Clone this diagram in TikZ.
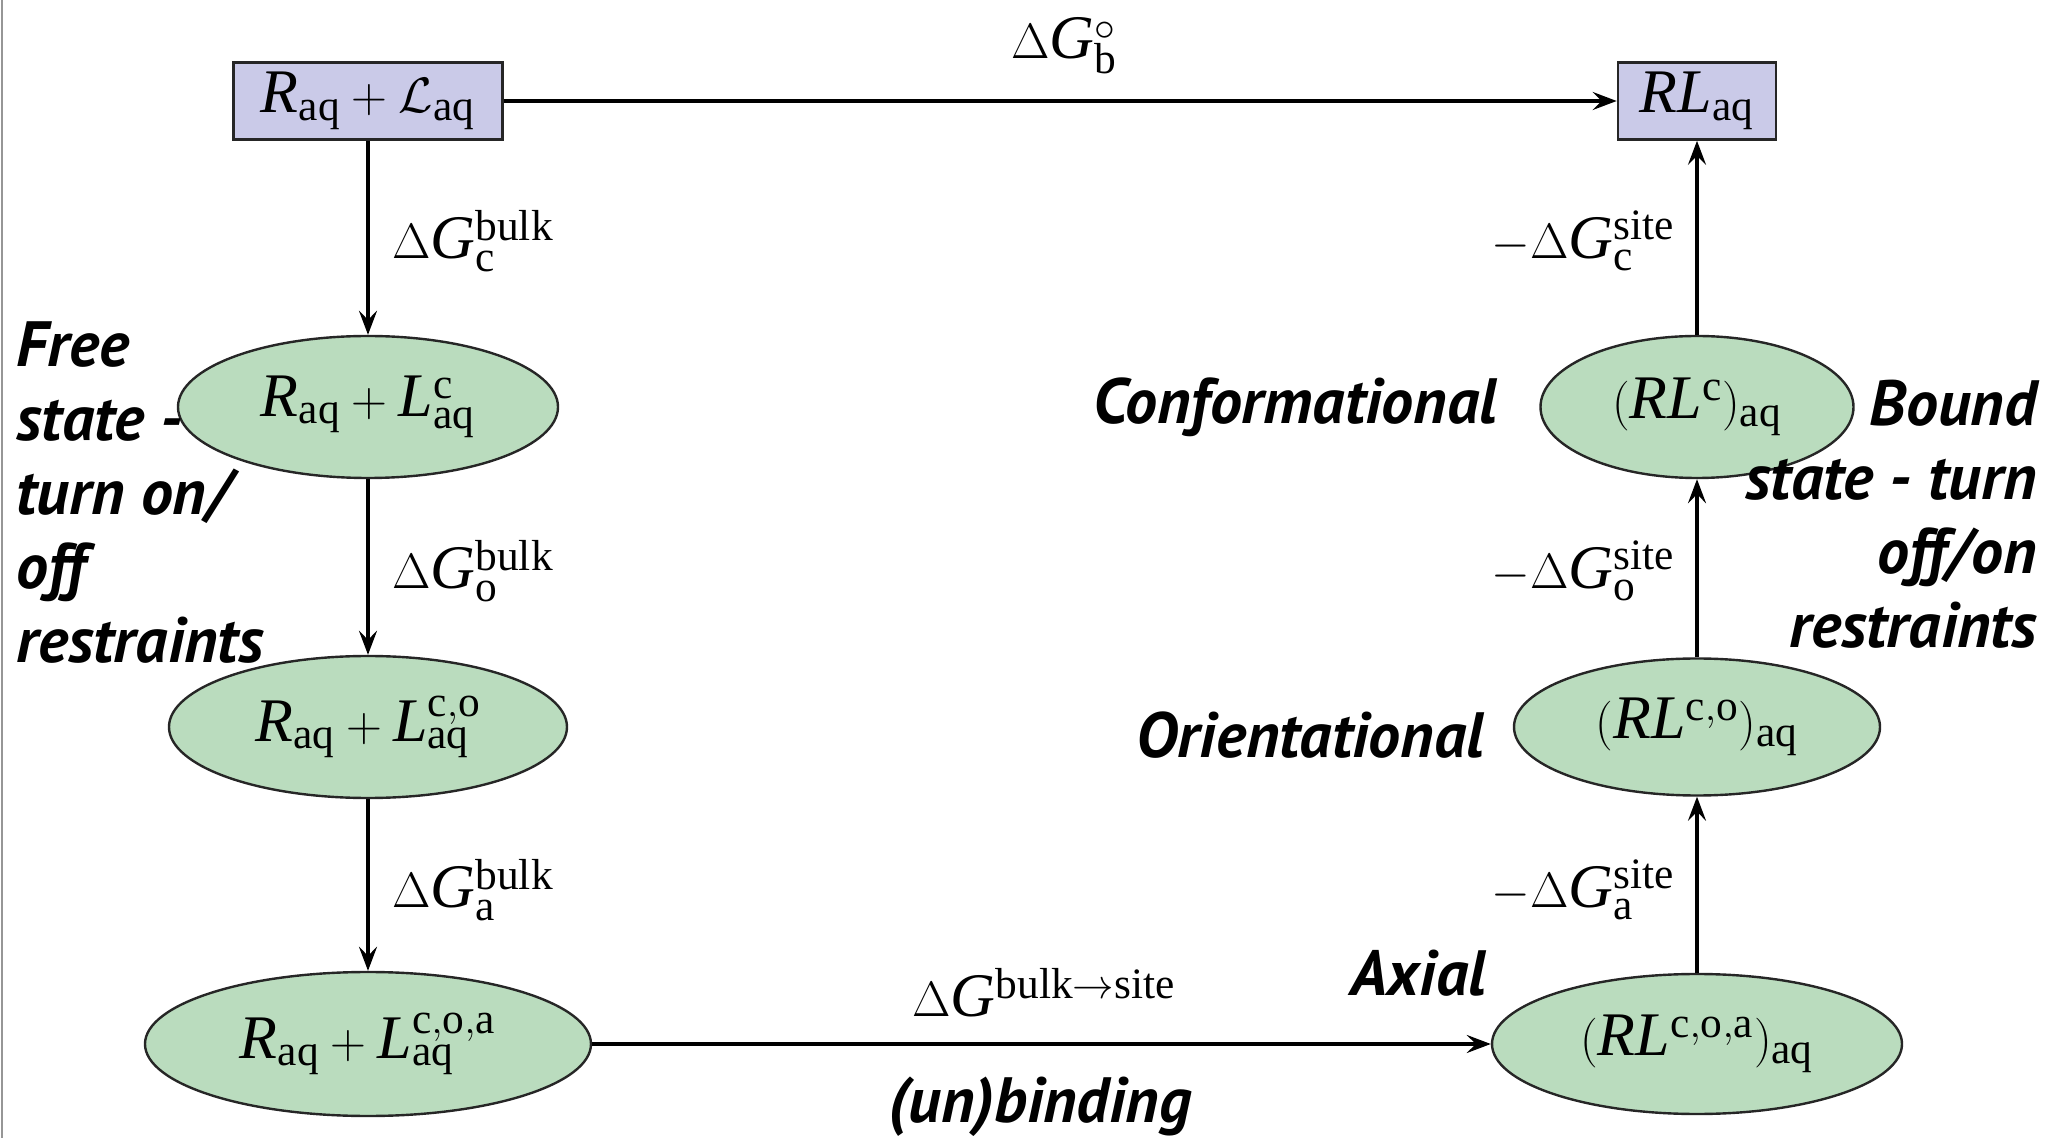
\documentclass[tikz,border=0pt]{standalone}
\usepackage{fontspec}
\setmainfont{Liberation Serif}
\newfontfamily\labfam{PT Sans}
\usetikzlibrary{shapes.geometric,arrows.meta}
\definecolor{boxfill}{RGB}{202,202,232}
\definecolor{ellfill}{RGB}{186,220,190}
\definecolor{framegray}{RGB}{150,150,150}
\newcommand{\mfont}{\fontsize{31}{36}\selectfont}
\newcommand{\bfont}{\labfam\bfseries\itshape\fontsize{32}{37}\selectfont}
\newcommand{\vR}{\mathit{R}}
\newcommand{\vL}{\mathit{L}}
\newcommand{\vG}{\mathit{G}}
\tikzset{
  statebox/.style={draw=black!85, line width=1.3pt, fill=boxfill, minimum height=38.5pt, inner sep=0pt, font=\mfont},
  stateell/.style={ellipse, draw=black!85, line width=1.2pt, fill=ellfill, minimum height=71pt, inner sep=0pt, font=\mfont},
  conn/.style={line width=1.6pt, -{Stealth[length=12pt,width=9pt,inset=4.5pt]}},
  mlab/.style={inner sep=0pt, font=\mfont},
  blab/.style={inner sep=0pt, font=\bfont, text=black}
}
\begin{document}
\begin{tikzpicture}[x=0.5pt,y=-0.5pt]
\useasboundingbox (0,0) rectangle (2047,1138);
\draw[framegray, line width=1pt] (2,0) -- (2,1138);
% nodes
\node[statebox, minimum width=134.5pt] (b1) at (368,101) {$\vR_{\mathrm{aq}}+\mathcal{L}_{\mathrm{aq}}$};
\node[statebox, minimum width=79pt] (b2) at (1697,101) {$\vR\vL_{\mathrm{aq}}$};
\node[stateell, minimum width=190pt] (l1) at (368,407) {$\vR_{\mathrm{aq}}+\vL^{\mathrm{c}}_{\mathrm{aq}}$};
\node[stateell, minimum width=199pt] (l2) at (368,727) {$\vR_{\mathrm{aq}}+\vL^{\mathrm{c,o}}_{\mathrm{aq}}$};
\node[stateell, minimum width=223pt, minimum height=72pt] (l3) at (368,1044) {$\vR_{\mathrm{aq}}+\vL^{\mathrm{c,o,a}}_{\mathrm{aq}}$};
\node[stateell, minimum width=156.5pt] (r1) at (1697,407) {$(\vR\vL^{\mathrm{c}})_{\mathrm{aq}}$};
\node[stateell, minimum width=183pt, minimum height=68.5pt] (r2) at (1697,727) {$(\vR\vL^{\mathrm{c,o}})_{\mathrm{aq}}$};
\node[stateell, minimum width=205pt, minimum height=70pt] (r3) at (1697,1044) {$(\vR\vL^{\mathrm{c,o,a}})_{\mathrm{aq}}$};
% connectors
\draw[conn] (b1) -- (b2);
\draw[conn] (b1) -- (l1);
\draw[conn] (l1) -- (l2);
\draw[conn] (l2) -- (l3);
\draw[conn] (l3) -- (r3);
\draw[conn] (r3) -- (r2);
\draw[conn] (r2) -- (r1);
\draw[conn] (r1) -- (b2);
% math labels
\node[mlab] (gb) at (1064,46) {$\Delta \vG^{\circ}_{\mathrm{b}}$};
\node[mlab, anchor=west] (gc) at (392,241) {$\Delta \vG^{\mathrm{bulk}}_{\mathrm{c}}$};
\node[mlab, anchor=west] (go) at (392,571) {$\Delta \vG^{\mathrm{bulk}}_{\mathrm{o}}$};
\node[mlab, anchor=west] (ga) at (392,890) {$\Delta \vG^{\mathrm{bulk}}_{\mathrm{a}}$};
\node[mlab, anchor=east] (sc) at (1675,241) {$-\Delta \vG^{\mathrm{site}}_{\mathrm{c}}$};
\node[mlab, anchor=east] (so) at (1675,571) {$-\Delta \vG^{\mathrm{site}}_{\mathrm{o}}$};
\node[mlab, anchor=east] (sa) at (1675,890) {$-\Delta \vG^{\mathrm{site}}_{\mathrm{a}}$};
\node[mlab] (gbs) at (1044,993) {$\Delta \vG^{\mathrm{bulk}\rightarrow\mathrm{site}}$};
% bold italic labels
\node[blab, anchor=north west, align=left] (free) at (16,321) {Free\\state -\\turn on/\\off\\restraints};
\node[blab, anchor=north east, align=right] (bound) at (2037,380) {Bound\\state - turn\\off/on\\restraints};
\node[blab, anchor=east] (conf) at (1497,407) {Conformational};
\node[blab, anchor=east] (orient) at (1484,735) {Orientational};
\node[blab, anchor=east] (axial) at (1486,973) {Axial};
\node[blab] (unb) at (1040,1107) {(un)binding};
\end{tikzpicture}
\end{document}
